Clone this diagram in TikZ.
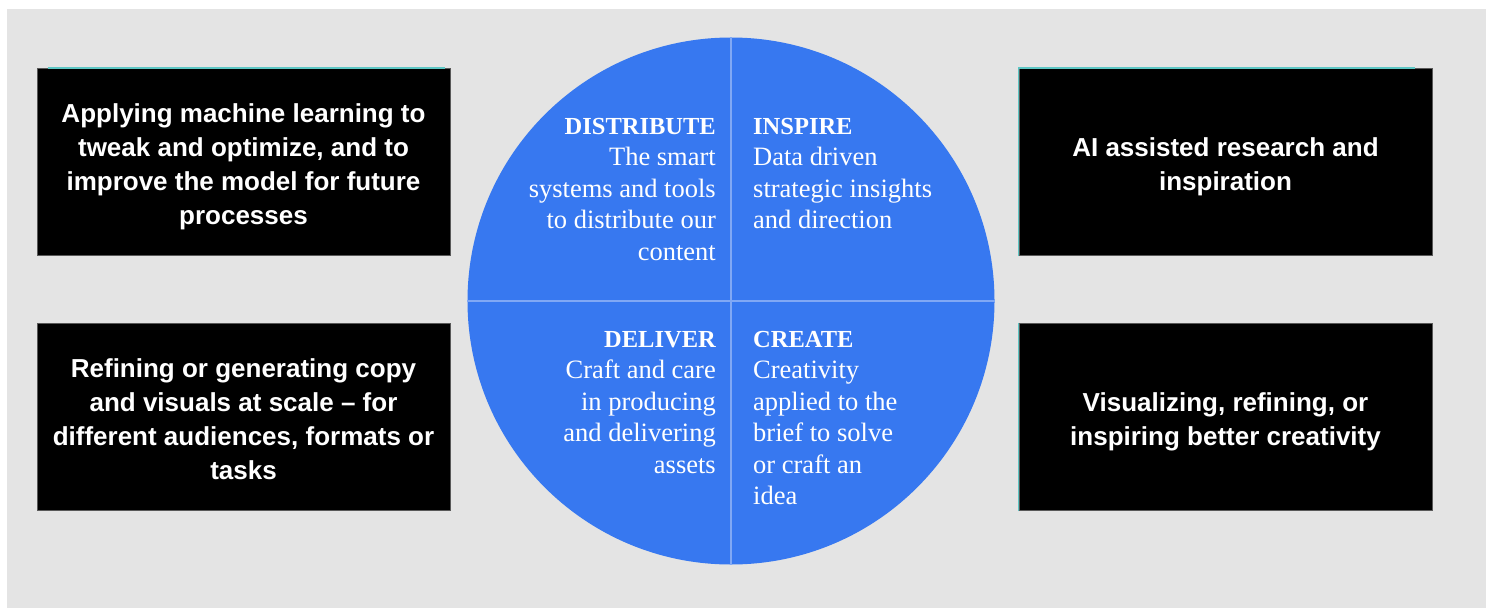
\documentclass[tikz,border=0pt]{standalone}
\usepackage{fontspec}
\setmainfont{Liberation Serif}
\newfontfamily\boxfont{Liberation Sans}
\definecolor{bggray}{HTML}{E4E4E4}
\definecolor{wheelblue}{HTML}{3778F0}
\definecolor{divider}{HTML}{80A8F5}
\definecolor{tealedge}{HTML}{5CC6C4}
\newcommand\qhead[1]{{\bfseries\fontsize{24.5}{31.5}\selectfont #1}}
\begin{document}
\begin{tikzpicture}[x=1pt,y=-1pt,
  card/.style={fill=black, draw=black!65, line width=1pt,
    minimum width=413pt, minimum height=187pt, inner sep=0pt},
  cardtext/.style={inner sep=0pt, text=white, align=center,
    font=\boxfont\bfseries\fontsize{26}{34}\selectfont},
  quarter/.style={inner sep=0pt, text=white,
    font=\fontsize{26.5}{31.5}\selectfont},
  edge/.style={tealedge, line width=1.6pt},
  split/.style={divider, line width=1.6pt}]
\useasboundingbox (0,0) rectangle (1486,608);
% page and slide background
\fill[white] (0,0) rectangle (1486,608);
\fill[bggray] (7,9) rectangle (1486,608);

% central wheel
\node[circle, fill=wheelblue, minimum size=527pt, inner sep=0pt] (wheel) at (731,301) {};
\draw[split] (wheel.north) -- (wheel.south);
\draw[split] (wheel.west) -- (wheel.east);

% quarter texts
\node[quarter, align=right, anchor=north east] (distribute) at (716,118)
  {\qhead{DISTRIBUTE}\\The smart\\systems and tools\\to distribute our\\content};
\node[quarter, align=left, anchor=north west] (inspire) at (753,118)
  {\qhead{INSPIRE}\\Data driven\\strategic insights\\and direction};
\node[quarter, align=right, anchor=north east] (deliver) at (716,331)
  {\qhead{DELIVER}\\Craft and care\\in producing\\and delivering\\assets};
\node[quarter, align=left, anchor=north west] (create) at (753,331)
  {\qhead{CREATE}\\Creativity\\applied to the\\brief to solve\\or craft an\\idea};

% side cards
\node[card] (optimize) at (243.5,162) {};
\node[card] (scale) at (243.5,417) {};
\node[card] (research) at (1225.5,162) {};
\node[card] (visualize) at (1225.5,417) {};

\node[cardtext] (optimizetext) at ([yshift=-4.5pt]optimize.center)
  {Applying machine learning to\\tweak and optimize, and to\\improve the model for future\\processes};
\node[cardtext] (scaletext) at ([yshift=-2.5pt]scale.center)
  {Refining or generating copy\\and visuals at scale – for\\different audiences, formats or\\tasks};
\node[cardtext] (researchtext) at ([yshift=-4.5pt]research.center)
  {AI assisted research and\\inspiration};
\node[cardtext] (visualizetext) at ([yshift=-4.5pt]visualize.center)
  {Visualizing, refining, or\\inspiring better creativity};

% highlighted card edges
\draw[edge] ([xshift=11pt]optimize.north west) -- ([xshift=-6pt]optimize.north east);
\draw[edge] (research.south west) -- (research.north west) -- ([xshift=-18pt]research.north east);
\draw[edge] (visualize.south west) -- (visualize.north west);
\end{tikzpicture}
\end{document}
